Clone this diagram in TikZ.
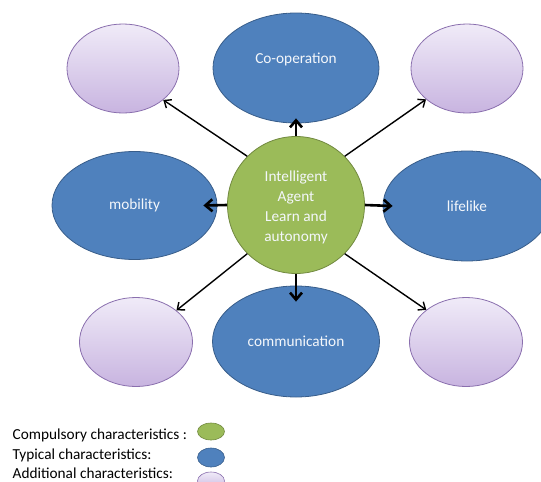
\documentclass[tikz,border=0pt]{standalone}
\usepackage{fontspec}
\setmainfont{Carlito}
\usetikzlibrary{shapes.geometric,arrows.meta}
\definecolor{bluef}{HTML}{4F81BD}
\definecolor{blued}{HTML}{385D8A}
\definecolor{greenf}{HTML}{9BBB59}
\definecolor{greend}{HTML}{71893F}
\definecolor{lavtop}{HTML}{F0EBF8}
\definecolor{lavbot}{HTML}{C8B4E0}
\definecolor{lavd}{HTML}{8A6FAE}
\definecolor{txtw}{HTML}{F4F7FB}
\begin{document}
\begin{tikzpicture}[x=1pt,y=-1pt,
 blueell/.style={ellipse, draw=blued, fill=bluef, line width=0.8pt, inner sep=0pt, text=txtw, font=\fontsize{15.3}{20}\selectfont},
 lavell/.style={ellipse, draw=lavd, top color=lavtop, bottom color=lavbot, line width=0.8pt, inner sep=0pt},
 greencirc/.style={circle, draw=greend, fill=greenf, line width=0.8pt, inner sep=0pt, minimum size=137pt},
 lbl/.style={inner sep=0pt, text=txtw, align=center, font=\fontsize{15.3}{20}\selectfont},
 thinarr/.style={-{Straight Barb[length=6pt,width=10pt]}, line width=1.4pt},
 thickarr/.style={-{Straight Barb[length=7pt,width=12pt]}, line width=2.6pt},
 legtext/.style={anchor=base west, inner sep=0pt, font=\fontsize{15.3}{18}\selectfont},
]
\useasboundingbox (0,0) rectangle (541,482);

% typical characteristics
\node[blueell, minimum width=166pt, minimum height=110pt] (tb) at (296,68) {};
\node[lbl] (tbt) at ([yshift=9pt]tb.center) {Co-operation};
\node[blueell, minimum width=165pt, minimum height=108pt] (lb) at (134.5,205.5) {mobility};
\node[blueell, minimum width=168pt, minimum height=110pt] (rb) at (467,206) {lifelike};
\node[blueell, minimum width=167pt, minimum height=111pt] (bb) at (296,341.5) {communication};

% additional characteristics
\node[lavell, minimum width=112pt, minimum height=89pt] (tl) at (123,68.5) {};
\node[lavell, minimum width=112pt, minimum height=89pt] (tr) at (467,68.5) {};
\node[lavell, minimum width=113pt, minimum height=89pt] (bl) at (136,342) {};
\node[lavell, minimum width=113pt, minimum height=89pt] (br) at (466,342) {};

% compulsory
\node[greencirc] (g) at (296,205) {};
\node[lbl] (gt) at ([yshift=-2.5pt]g.center) {Intelligent\\Agent\\Learn and\\autonomy};

% arrows
\draw[thinarr] (g.135) -- (tl.-38);
\draw[thinarr] (g.45) -- (tr.-143.6);
\draw[thinarr] (g.-135) -- (bl.38);
\draw[thinarr] (g.-45) -- (br.141.5);
\draw[thickarr] (g.north) -- ([yshift=5pt]tb.south);
\draw[thickarr] (g.west) -- ([xshift=-14pt]lb.east);
\draw[thickarr] (g.east) -- ([xshift=10pt]rb.west);
\draw[thickarr] (g.south) -- ([yshift=-16pt]bb.north);

% legend
\node[legtext] (l1) at (12.5,439.3) {Compulsory characteristics :};
\node[legtext] (l2) at (12.5,459) {Typical characteristics:};
\node[legtext] (l3) at (12.5,478.3) {Additional characteristics:};
\node[ellipse, draw=greend, fill=greenf, line width=0.6pt, inner sep=0pt, minimum width=27pt, minimum height=17pt] (lg) at (211,431.5) {};
\node[ellipse, draw=blued, fill=bluef, line width=0.6pt, inner sep=0pt, minimum width=27pt, minimum height=19pt] (lbz) at (211,457.5) {};
\node[ellipse, draw=lavd, top color=lavtop, bottom color=lavbot, line width=0.6pt, inner sep=0pt, minimum width=27pt, minimum height=18pt] (lv) at (211,481) {};
\end{tikzpicture}
\end{document}
